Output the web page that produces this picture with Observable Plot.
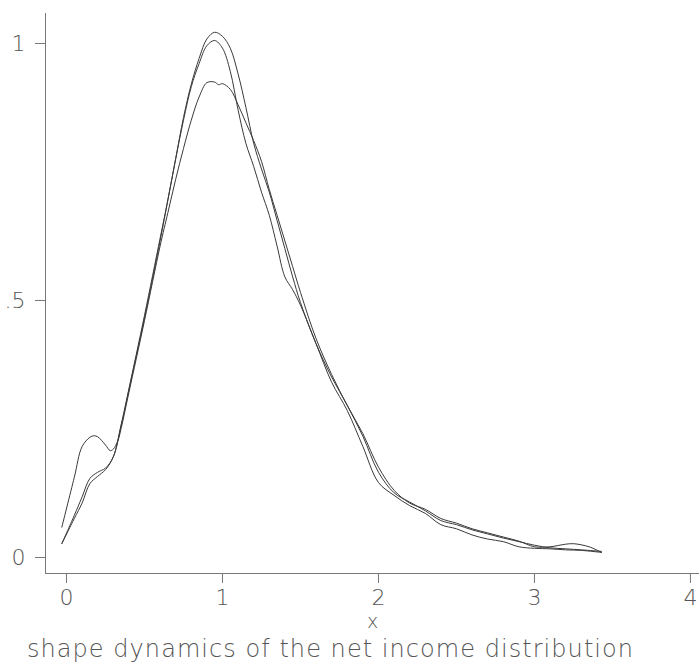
<!DOCTYPE html>
<html><head><meta charset="utf-8">
<script src="https://cdn.jsdelivr.net/npm/d3@7"></script>
<script src="https://cdn.jsdelivr.net/npm/@observablehq/plot@0.6"></script>
<style>
body{margin:0;background:#fff;width:699px;height:666px;overflow:hidden}
#title{font-family:"DejaVu Sans",sans-serif;font-weight:200;font-size:24px;line-height:33px;height:33px;color:#555;padding-left:27px;white-space:nowrap}
#title span{display:inline-block}
</style></head>
<body>
<div id="chart"></div>
<div id="title"><span id="tt">shape dynamics of the net income distribution</span></div>
<script>
// Series A (highest peak)
const xA = [-0.03,0.05,0.1,0.15,0.2,0.25,0.3,0.35,0.4,0.5,0.6,0.65,0.7,0.75,0.8,0.85,0.9,0.95,1.0,1.05,1.1,1.15,1.2,1.25,1.3,1.35,1.4,1.45,1.5,1.6,1.7,1.8,1.9,2.0,2.1,2.2,2.3,2.4,2.5,2.6,2.7,2.8,2.9,3.0,3.1,3.2,3.3,3.43];
const yA = [0.021,0.076,0.112,0.148,0.16,0.168,0.19,0.25,0.32,0.46,0.61,0.69,0.77,0.85,0.915,0.965,1.003,1.016,1.008,0.985,0.935,0.87,0.80,0.75,0.705,0.65,0.595,0.54,0.49,0.41,0.345,0.29,0.23,0.16,0.12,0.102,0.085,0.066,0.058,0.048,0.04,0.032,0.025,0.018,0.013,0.011,0.009,0.006];
// Series B (peak about 1)
const xB = [-0.03,0.05,0.1,0.15,0.2,0.25,0.3,0.35,0.4,0.5,0.6,0.65,0.7,0.75,0.8,0.85,0.9,0.95,1.0,1.05,1.1,1.15,1.2,1.25,1.3,1.35,1.4,1.45,1.5,1.6,1.7,1.8,1.9,2.0,2.1,2.2,2.3,2.4,2.5,2.6,2.7,2.8,2.9,3.0,3.1,3.2,3.3,3.43];
const yB = [0.021,0.07,0.10,0.138,0.152,0.165,0.19,0.252,0.322,0.465,0.615,0.69,0.77,0.845,0.91,0.955,0.99,1.0,0.985,0.94,0.865,0.80,0.755,0.705,0.66,0.60,0.54,0.515,0.485,0.41,0.335,0.28,0.21,0.14,0.115,0.095,0.08,0.058,0.05,0.038,0.03,0.025,0.015,0.012,0.011,0.009,0.008,0.004];
// Series C (lower, flat peak, bump near 0.2)
const xC = [-0.03,0.05,0.1,0.15,0.175,0.2,0.25,0.28,0.3,0.33,0.35,0.4,0.5,0.6,0.65,0.7,0.75,0.8,0.85,0.9,0.95,0.975,1.0,1.05,1.1,1.15,1.2,1.25,1.3,1.35,1.4,1.45,1.5,1.6,1.7,1.8,1.9,2.0,2.1,2.2,2.3,2.4,2.5,2.6,2.7,2.8,2.9,3.0,3.1,3.2,3.25,3.35,3.43];
const yC = [0.053,0.15,0.21,0.228,0.231,0.229,0.213,0.202,0.205,0.222,0.245,0.315,0.455,0.60,0.665,0.73,0.79,0.845,0.89,0.918,0.919,0.914,0.916,0.905,0.875,0.84,0.805,0.765,0.71,0.66,0.61,0.56,0.51,0.42,0.35,0.29,0.235,0.17,0.125,0.10,0.088,0.07,0.061,0.05,0.042,0.034,0.026,0.015,0.015,0.02,0.021,0.015,0.004];

const xTicks = [0,1,2,3,4];
const xTickLabels = ["0","1","2","3","4"];
const yTicks = [0,0.5,1];
const yTickLabels = ["0",".5","1"];
const xDomain = [-0.1346, 4.058];
const yDomain = [-0.037, 1.0525];

const data = [];
xA.forEach((x,i)=>data.push({series:"A",x,y:yA[i]}));
xB.forEach((x,i)=>data.push({series:"B",x,y:yB[i]}));
xC.forEach((x,i)=>data.push({series:"C",x,y:yC[i]}));

const font = '"DejaVu Sans", sans-serif';
const chart = Plot.plot({
  width: 699, height: 633,
  marginLeft: 45, marginRight: 0, marginTop: 13, marginBottom: 60,
  x: {domain: xDomain},
  y: {domain: yDomain},
  style: {fontFamily: font, fontSize: "22px", fontWeight: 200, color: "#555", background: "#fff"},
  marks: [
    Plot.ruleX([xDomain[0]], {stroke: "#777", strokeWidth: 1}),
    Plot.ruleY([yDomain[0]], {stroke: "#777", strokeWidth: 1}),
    Plot.axisY(yTicks, {tickFormat: d => yTickLabels[yTicks.indexOf(d)], tickSize: 10, tickPadding: 10, stroke: "#777", fill: "#555", fontSize: 22, dy: 3, label: null}),
    Plot.axisX(xTicks, {tickFormat: d => xTickLabels[xTicks.indexOf(d)], tickSize: 10, tickPadding: 6, stroke: "#777", fill: "#555", fontSize: 22, label: null}),
    Plot.line(data, {x: "x", y: "y", z: "series", stroke: "#3a3a3a", strokeWidth: 1, curve: "catmull-rom"}),
    Plot.text(["x"], {text: d => d, frameAnchor: "bottom", lineAnchor: "bottom", dy: 54, fontSize: 19, fill: "#555"})
  ]
});
document.getElementById("chart").appendChild(chart);

const tt = document.getElementById("tt");
const n = tt.textContent.length;
const w0 = tt.getBoundingClientRect().width;
tt.style.letterSpacing = ((606 - w0) / (n - 1)) + "px";
</script>
</body></html>
